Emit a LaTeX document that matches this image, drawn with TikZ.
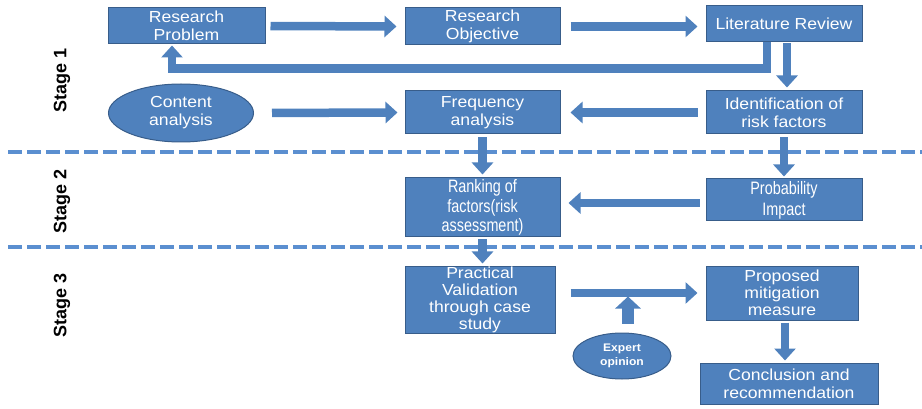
\documentclass[tikz,border=0pt]{standalone}
\usepackage{fontspec}
\setmainfont{Liberation Sans}[FakeStretch=1.1]
\newfontfamily\narrowfont{Liberation Sans}[FakeStretch=0.8]
\newfontfamily\plainfont{Liberation Sans}
\usetikzlibrary{arrows.meta,shapes.geometric,calc}
\definecolor{boxblue}{HTML}{4F81BD}
\definecolor{boxedge}{HTML}{385D8A}
\definecolor{dashblue}{HTML}{5B8FD0}
\begin{document}
\begin{tikzpicture}[x=1pt,y=-1pt,
  box/.style={draw=boxedge, line width=1pt, fill=boxblue, text=white, align=center,
    inner sep=0pt, font=\fontsize{16}{18}\selectfont},
  oval/.style={ellipse, draw=boxedge, line width=1pt, fill=boxblue, text=white, align=center,
    inner sep=0pt, font=\fontsize{16}{18}\selectfont},
  fat/.style={draw=boxblue, line width=8.5pt, line join=miter,
    -{Triangle[length=12pt,width=21pt]}},
  stage/.style={rotate=90, font=\plainfont\bfseries\fontsize{18}{20}\selectfont},
  sep/.style={draw=dashblue, line width=3.5pt, dash pattern=on 14pt off 5pt}
]
\useasboundingbox (0,0) rectangle (922,409);

% separators
\draw[sep] (8,152) -- (922,152);
\draw[sep] (8,247) -- (922,247);

% stage labels
\node[stage] (s1) at (62,80) {Stage 1};
\node[stage] (s2) at (62,201) {Stage 2};
\node[stage] (s3) at (62,305) {Stage 3};

% nodes
\node[box, minimum width=157pt, minimum height=36pt] (RP) at (186.5,26) {Research\\Problem};
\node[box, minimum width=155pt, minimum height=37pt] (RO) at (482.5,26.5) {Research\\Objective};
\node[box, minimum width=156pt, minimum height=36pt] (LR) at (784,24) {Literature Review};
\node[box, minimum width=156pt, minimum height=43pt] (ID) at (784,112.5) {Identification of\\risk factors};
\node[box, minimum width=155pt, minimum height=43pt] (FA) at (482.5,112.5) {Frequency\\analysis};
\node[oval, minimum width=145pt, minimum height=58pt] (CA) at (181,113) {Content\\analysis};
\node[box, minimum width=155pt, minimum height=59pt, font=\narrowfont\fontsize{18}{19.5}\selectfont] (RK) at (482.5,207.5) {Ranking of\\factors(risk\\assessment)};
\node[box, minimum width=156pt, minimum height=42pt, font=\narrowfont\fontsize{18}{21}\selectfont] (PI) at (784,200) {Probability\\Impact};
\node[box, minimum width=150pt, minimum height=67pt, font=\fontsize{16}{17}\selectfont] (PV) at (480,299.5) {Practical\\Validation\\through case\\study};
\node[box, minimum width=152pt, minimum height=54pt, font=\fontsize{16}{17}\selectfont] (PM) at (782,293) {Proposed\\mitigation\\measure};
\node[box, minimum width=178pt, minimum height=41pt] (CR) at (789,383.5) {Conclusion and\\recommendation};
\node[oval, minimum width=98pt, minimum height=46pt, font=\bfseries\fontsize{11}{14}\selectfont] (EO) at (622,356) {Expert\\opinion};

% arrows
\draw[fat, shorten <=5pt, shorten >=8pt] (RP.east) -- (RO.west);
\draw[fat, shorten <=10pt, shorten >=8pt] (RO.east) -- (LR.west |- RO.east);
\draw[fat, shorten >=1pt] ($(LR.south)+(-17,0)$) -- ++(0,26) -| ($(RP.south)+(-14.5,0)$);
\draw[fat, shorten <=1pt, shorten >=3pt] ($(LR.south)+(3,0)$) -- ($(ID.north)+(3,0)$);
\draw[fat, shorten <=18pt, shorten >=7pt] (CA.east) -- (FA.west);
\draw[fat, shorten <=8pt, shorten >=10pt] (ID.west) -- (FA.east);
\draw[fat, shorten <=3pt, shorten >=3pt] (FA.south) -- (FA.south |- RK.north);
\draw[fat, shorten <=3pt, shorten >=2pt] (ID.south) -- (PI.north);
\coordinate (p1) at ($(PI.west)+(0,3)$);
\draw[fat, shorten <=6pt, shorten >=8pt] (p1) -- (p1 -| RK.east);
\draw[fat, shorten <=2pt, shorten >=2pt] (RK.south) -- (RK.south |- PV.north);
\coordinate (v1) at (PV.east |- PM.west);
\draw[fat, shorten <=15pt, shorten >=8pt] (v1) -- (PM.west);
\draw[fat, line width=12pt, -{Triangle[length=12pt,width=25pt]}] ($(EO.north)+(6,-9)$) -- ++(0,-27);
\coordinate (m1) at ($(PM.south)+(3,0)$);
\draw[fat, shorten <=2pt, shorten >=2pt] (m1) -- (m1 |- CR.north);
\end{tikzpicture}
\end{document}
